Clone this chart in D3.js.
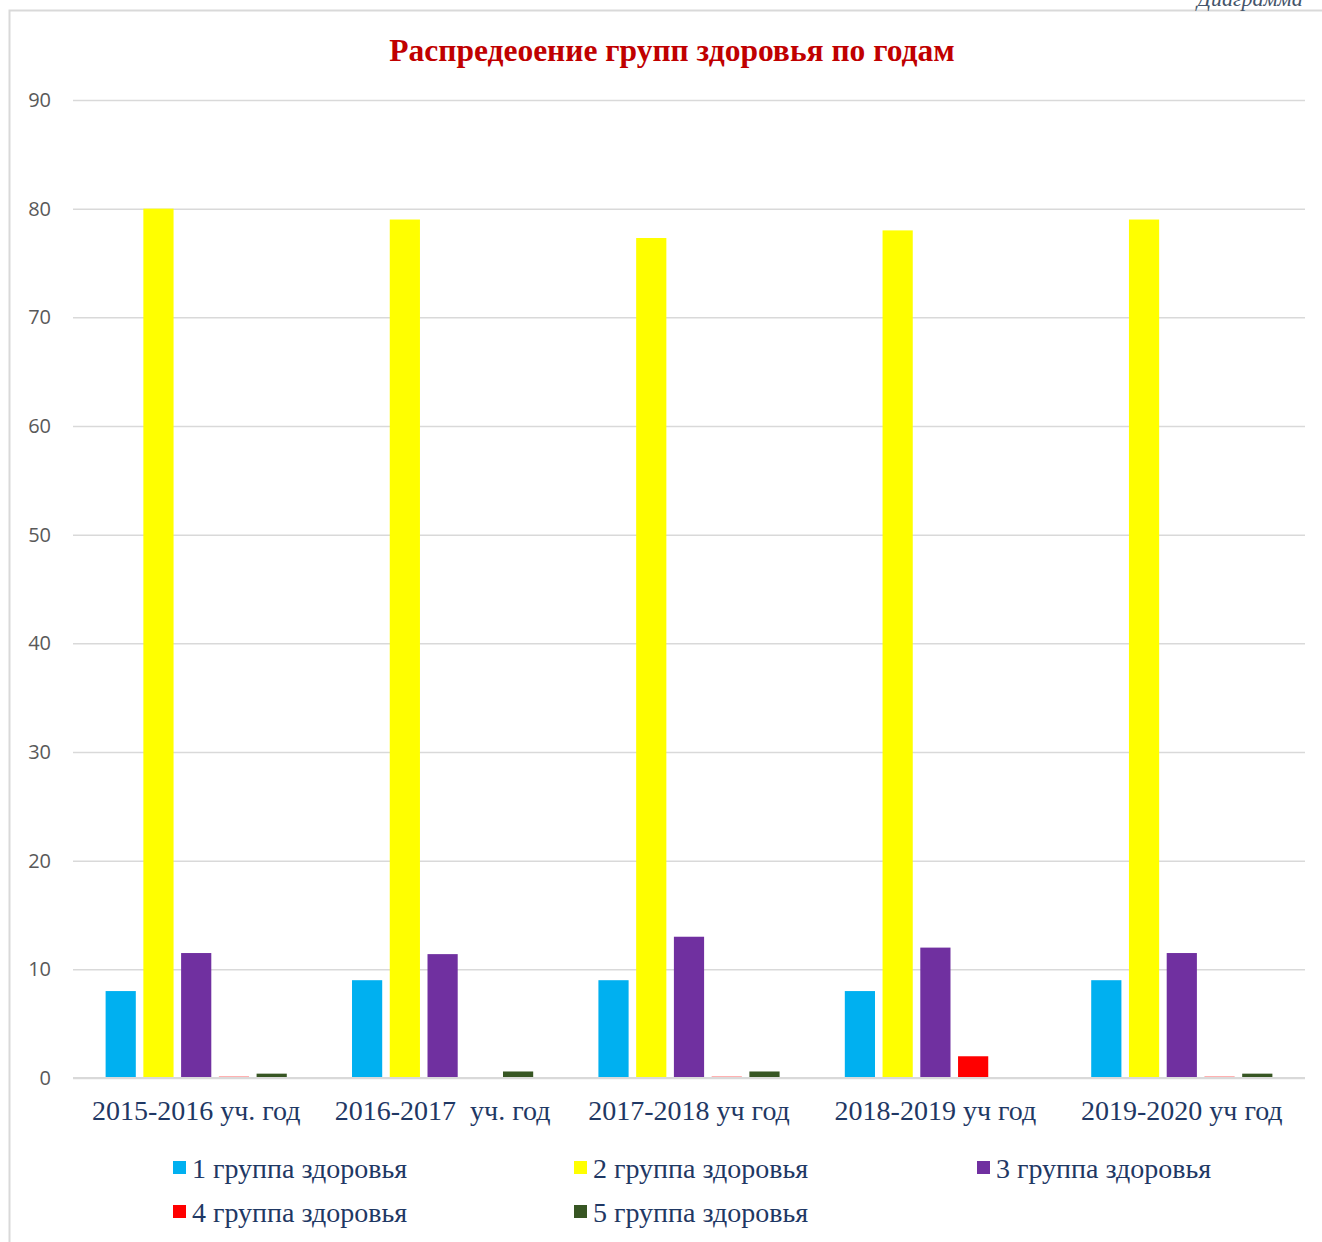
<!DOCTYPE html>
<html>
<head>
<meta charset="utf-8">
<title>Распредеоение групп здоровья по годам</title>
<script src="https://cdn.jsdelivr.net/npm/d3@7"></script>
<style>
  body { margin: 0; background: #fff; }
  svg text { white-space: pre; }
</style>
</head>
<body>
<script>
// data
var years = ["2015-2016 уч. год", "2016-2017  уч. год", "2017-2018 уч год", "2018-2019 уч год", "2019-2020 уч год"];
var seriesNames = ["1 группа здоровья", "2 группа здоровья", "3 группа здоровья", "4 группа здоровья", "5 группа здоровья"];
var group1 = [8, 9, 9, 8, 9];
var group2 = [80, 79, 77.3, 78, 79];
var group3 = [11.5, 11.4, 13, 12, 11.5];
var group4 = [0.12, 0, 0.12, 2, 0.12];
var group5 = [0.4, 0.6, 0.6, 0, 0.4];
var yTicks = [0, 10, 20, 30, 40, 50, 60, 70, 80, 90];

var colors = ["#00b0f0", "#ffff00", "#7030a0", "#ff0000", "#375623"];
var allSeries = [group1, group2, group3, group4, group5];

var width = 1322, height = 1242;
var margins = {top: 100, left: 73, right: 17, bottom: 164};

var svg = d3.select("body").append("svg")
    .attr("width", width)
    .attr("height", height);

// chart frame
svg.append("rect")
    .attr("x", 9.5).attr("y", 10.5)
    .attr("width", 1330).attr("height", 1250)
    .attr("fill", "none")
    .attr("stroke", "#d9d9d9")
    .attr("stroke-width", 2);

svg.append("text")
    .attr("x", 1197).attr("y", 6)
    .attr("font-family", "Liberation Serif, serif")
    .attr("font-style", "italic")
    .attr("font-size", 22)
    .attr("fill", "#44546a")
    .text("Диаграмма");

svg.append("text")
    .attr("x", 672).attr("y", 61)
    .attr("text-anchor", "middle")
    .attr("font-family", "Liberation Serif, serif")
    .attr("font-weight", "bold")
    .attr("font-size", 31.5)
    .attr("fill", "#c00000")
    .text("Распредеоение групп здоровья по годам");

var x0 = d3.scaleBand()
    .domain(years)
    .range([margins.left, width - margins.right])
    .paddingInner(0)
    .paddingOuter(0);

var x1 = d3.scaleBand()
    .domain(d3.range(seriesNames.length))
    .range([0, x0.bandwidth()])
    .paddingInner(0.2)
    .paddingOuter(0.864);

var y = d3.scaleLinear()
    .domain([0, 90])
    .range([height - margins.bottom, margins.top]);

// grid + y labels
var yAxis = d3.axisLeft(y)
    .tickValues(yTicks)
    .tickSize(-(width - margins.left - margins.right))
    .tickPadding(22);

var yG = svg.append("g")
    .attr("transform", "translate(" + margins.left + ",0)")
    .call(yAxis);
yG.select(".domain").remove();
yG.selectAll(".tick line")
    .attr("stroke", "#d9d9d9")
    .attr("stroke-width", 1.5);
yG.selectAll(".tick text")
    .attr("font-family", "Open Sans, sans-serif")
    .attr("font-size", 20)
    .attr("fill", "#595959");

// bars
var groups = svg.append("g").selectAll("g")
    .data(years)
    .enter().append("g")
    .attr("transform", function (d) { return "translate(" + x0(d) + ",0)"; });

groups.selectAll("rect")
    .data(function (d, i) {
        return allSeries.map(function (s, k) { return {k: k, v: s[i]}; });
    })
    .enter().append("rect")
    .attr("x", function (d) { return x1(d.k); })
    .attr("width", x1.bandwidth())
    .attr("y", function (d) { return y(d.v); })
    .attr("height", function (d) { return y(0) - y(d.v); })
    .attr("fill", function (d) { return colors[d.k]; });

// baseline
svg.append("line")
    .attr("x1", margins.left).attr("x2", width - margins.right)
    .attr("y1", y(0)).attr("y2", y(0))
    .attr("stroke", "#d9d9d9")
    .attr("stroke-width", 2);

// x labels
var xAxis = d3.axisBottom(x0).tickSize(0).tickPadding(22);
var xG = svg.append("g")
    .attr("transform", "translate(0," + y(0) + ")")
    .call(xAxis);
xG.select(".domain").remove();
xG.selectAll(".tick text")
    .attr("font-family", "Liberation Serif, serif")
    .attr("font-size", 28)
    .attr("fill", "#1f3864");

// legend
var legendPos = [[173, 1168], [574, 1168], [977, 1168], [173, 1212], [574, 1212]];
var legend = svg.append("g").selectAll("g")
    .data(seriesNames)
    .enter().append("g")
    .attr("transform", function (d, i) { return "translate(" + legendPos[i][0] + "," + legendPos[i][1] + ")"; });

legend.append("rect")
    .attr("x", 0).attr("y", -7)
    .attr("width", 13).attr("height", 13)
    .attr("fill", function (d, i) { return colors[i]; });

legend.append("text")
    .attr("x", 19).attr("y", 10)
    .attr("font-family", "Liberation Serif, serif")
    .attr("font-size", 28)
    .attr("fill", "#1f3864")
    .text(function (d) { return d; });
</script>
</body>
</html>
